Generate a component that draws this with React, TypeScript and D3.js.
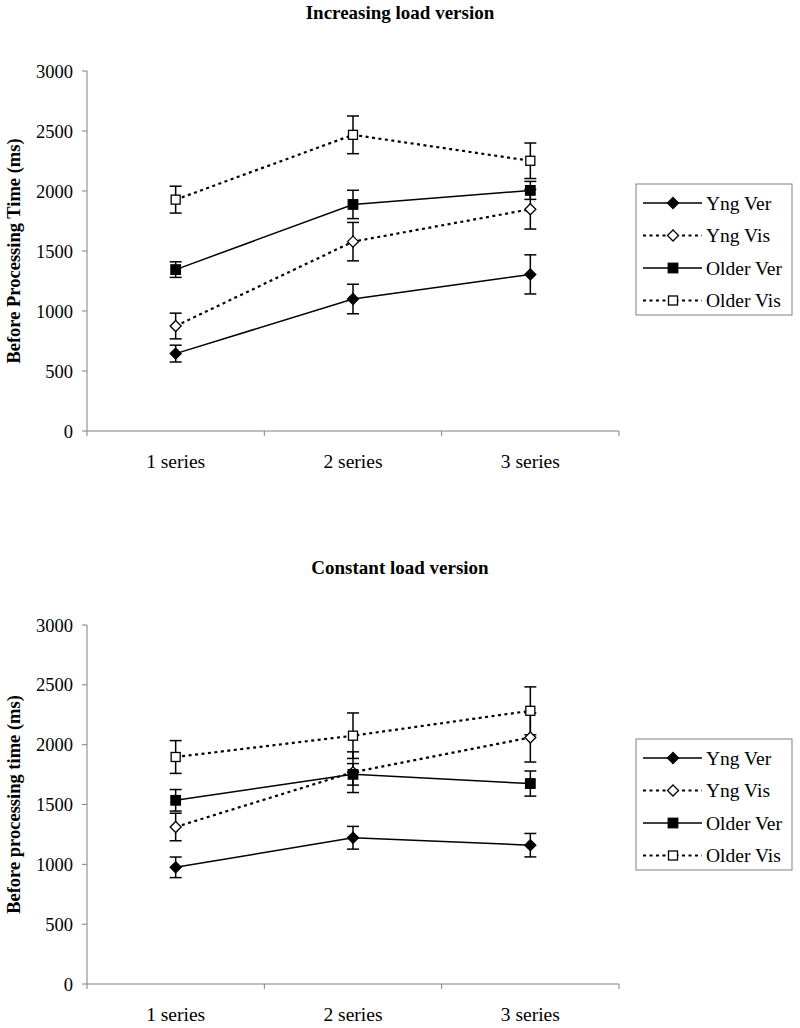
import React from "react";
import * as d3 from "d3";

const categories = ["1 series", "2 series", "3 series"];
const seriesNames = ["Yng Ver", "Yng Vis", "Older Ver", "Older Vis"];
const yTicks = [0, 500, 1000, 1500, 2000, 2500, 3000];

// Increasing load version
const incYngVer = [645, 1100, 1305];
const incYngVerErr = [70, 123, 163];
const incYngVis = [875, 1578, 1848];
const incYngVisErr = [107, 160, 165];
const incOldVer = [1345, 1888, 2005];
const incOldVerErr = [65, 118, 75];
const incOldVis = [1928, 2468, 2252];
const incOldVisErr = [112, 157, 148];

// Constant load version
const conYngVer = [975, 1222, 1160];
const conYngVerErr = [86, 95, 98];
const conYngVis = [1312, 1770, 2060];
const conYngVisErr = [115, 170, 205];
const conOldVer = [1535, 1752, 1675];
const conOldVerErr = [90, 90, 105];
const conOldVis = [1897, 2075, 2283];
const conOldVisErr = [137, 190, 200];

const seriesStyle = [
  { dash: null, marker: "diamond", filled: true },
  { dash: "3,3.5", marker: "diamond", filled: false },
  { dash: null, marker: "square", filled: true },
  { dash: "3,3.5", marker: "square", filled: false },
];

const FONT = '"Liberation Serif", "Times New Roman", Times, "DejaVu Serif", serif';
const tStyle = { fontFamily: FONT };

function Marker({ type, filled, x, y }) {
  const fill = filled ? "#000" : "#fff";
  if (type === "diamond") {
    const r = 5.5;
    return (
      <path
        d={`M${x},${y - r}L${x + r},${y}L${x},${y + r}L${x - r},${y}Z`}
        fill={fill}
        stroke="#000"
        strokeWidth={1.3}
      />
    );
  }
  const s = filled ? 9.5 : 9;
  return (
    <rect x={x - s / 2} y={y - s / 2} width={s} height={s} fill={fill} stroke="#000" strokeWidth={1.3} />
  );
}

function Chart({ top, plotTop, plotBottom, title, yLabel, values, errs, legendTop }) {
  const x0 = 87;
  const x1 = 619;
  const y = d3.scaleLinear().domain([0, 3000]).range([plotBottom, plotTop]);
  const xb = d3.scaleBand().domain(categories).range([x0, x1]);
  const cx = (c) => xb(c) + xb.bandwidth() / 2;
  const line = d3
    .line()
    .x((d) => d[0])
    .y((d) => d[1]);
  const boundaries = [...categories.map((c) => xb(c)), x1];

  return (
    <g>
      <text x={400} y={top} textAnchor="middle" style={tStyle} fontWeight="bold" fontSize={19}>
        {title}
      </text>
      <text
        transform={`translate(20,${(plotTop + plotBottom) / 2}) rotate(-90)`}
        textAnchor="middle"
        style={tStyle}
        fontWeight="bold"
        fontSize={18.5}
      >
        {yLabel}
      </text>
      {/* axes */}
      <line x1={x0} x2={x0} y1={plotTop} y2={plotBottom} stroke="#808080" strokeWidth={1} />
      <line x1={x0} x2={x1} y1={plotBottom} y2={plotBottom} stroke="#808080" strokeWidth={1} />
      {yTicks.map((t) => (
        <g key={t}>
          <line x1={x0 - 5} x2={x0} y1={y(t)} y2={y(t)} stroke="#808080" />
          <text x={73} y={y(t) + 6.5} textAnchor="end" style={tStyle} fontSize={18.5}>
            {t}
          </text>
        </g>
      ))}
      {boundaries.map((b, i) => (
        <line key={i} x1={b} x2={b} y1={plotBottom} y2={plotBottom + 5} stroke="#808080" />
      ))}
      {categories.map((c) => (
        <text key={c} x={cx(c)} y={plotBottom + 37} textAnchor="middle" style={tStyle} fontSize={19.5}>
          {c}
        </text>
      ))}
      {/* lines */}
      {values.map((vals, si) => (
        <path
          key={"l" + si}
          d={line(vals.map((v, i) => [cx(categories[i]), y(v)]))}
          fill="none"
          stroke="#000"
          strokeWidth={seriesStyle[si].dash ? 2.2 : 1.5}
          strokeDasharray={seriesStyle[si].dash || undefined}
        />
      ))}
      {/* error bars */}
      {values.map((vals, si) =>
        vals.map((v, i) => {
          const xx = cx(categories[i]);
          const e = errs[si][i];
          return (
            <g key={"e" + si + "-" + i} stroke="#000" strokeWidth={1.5}>
              <line x1={xx} x2={xx} y1={y(v + e)} y2={y(v - e)} />
              <line x1={xx - 6} x2={xx + 6} y1={y(v + e)} y2={y(v + e)} />
              <line x1={xx - 6} x2={xx + 6} y1={y(v - e)} y2={y(v - e)} />
            </g>
          );
        })
      )}
      {/* markers */}
      {values.map((vals, si) =>
        vals.map((v, i) => (
          <Marker
            key={"m" + si + "-" + i}
            type={seriesStyle[si].marker}
            filled={seriesStyle[si].filled}
            x={cx(categories[i])}
            y={y(v)}
          />
        ))
      )}
      {/* legend */}
      <rect x={636} y={legendTop} width={156} height={131} fill="#fff" stroke="#808080" strokeWidth={1} />
      {seriesNames.map((n, i) => {
        const ly = legendTop + 19 + i * 32.5;
        return (
          <g key={n}>
            <line
              x1={643}
              x2={702}
              y1={ly}
              y2={ly}
              stroke="#000"
              strokeWidth={seriesStyle[i].dash ? 2.2 : 1.5}
              strokeDasharray={seriesStyle[i].dash || undefined}
            />
            <Marker type={seriesStyle[i].marker} filled={seriesStyle[i].filled} x={673} y={ly} />
            <text x={706} y={ly + 6.5} style={tStyle} fontSize={19.5}>
              {n}
            </text>
          </g>
        );
      })}
    </g>
  );
}

export default function App() {
  return (
    <svg
      width={800}
      height={1028}
      style={{ position: "absolute", left: 0, top: 0, background: "#fff" }}
    >
      <rect width={800} height={1028} fill="#fff" />
      <Chart
        top={19}
        plotTop={71}
        plotBottom={431}
        title="Increasing load version"
        yLabel="Before Processing Time (ms)"
        values={[incYngVer, incYngVis, incOldVer, incOldVis]}
        errs={[incYngVerErr, incYngVisErr, incOldVerErr, incOldVisErr]}
        legendTop={184}
      />
      <Chart
        top={574}
        plotTop={625}
        plotBottom={984}
        title="Constant load version"
        yLabel="Before processing time (ms)"
        values={[conYngVer, conYngVis, conOldVer, conOldVis]}
        errs={[conYngVerErr, conYngVisErr, conOldVerErr, conOldVisErr]}
        legendTop={739}
      />
    </svg>
  );
}
